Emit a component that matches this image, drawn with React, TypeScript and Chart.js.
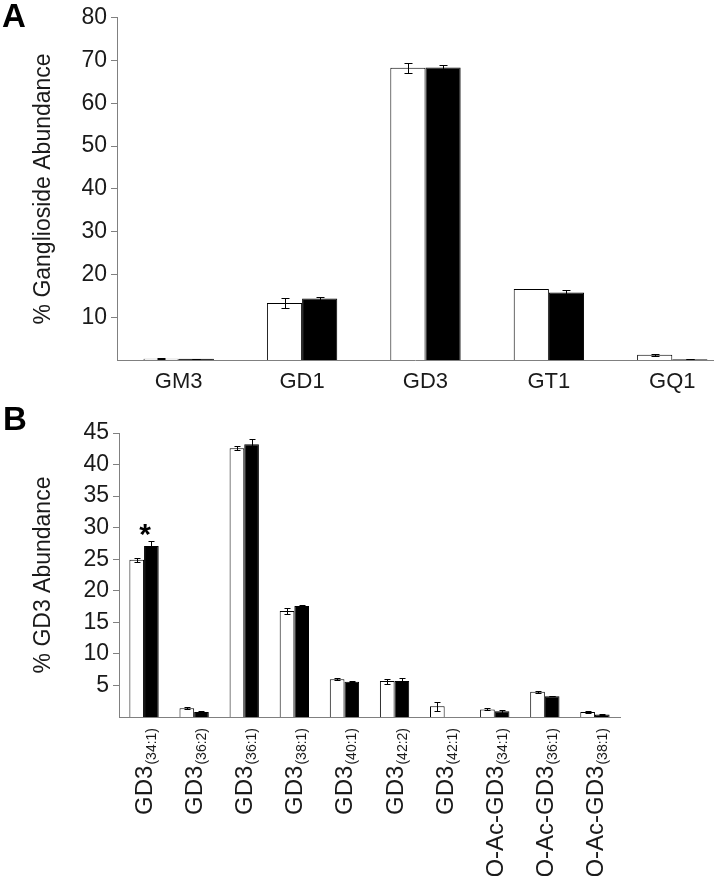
import React, { useEffect, useRef } from "react";
import { Chart, registerables } from "chart.js";

Chart.register(...registerables);

const FONT = '"Liberation Sans", Arial, Helvetica, sans-serif';
const TEXT = "#1a1a1a";
const AXIS = "#808080";

// Panel A data
const gangliosides = ["GM3", "GD1", "GD3", "GT1", "GQ1"];
const gangWhite = [0.3, 13.3, 68.3, 16.6, 1.2];
const gangWhiteErr = [0.1, 1.2, 1.2, 0.1, 0.2];
const gangBlack = [0.3, 14.4, 68.4, 15.8, 0.2];
const gangBlackErr = [0.05, 0.3, 0.6, 0.5, 0.05];
const gangTicks = [10, 20, 30, 40, 50, 60, 70, 80];

// Panel B data
const gd3Main = ["GD3", "GD3", "GD3", "GD3", "GD3", "GD3", "GD3", "O-Ac-GD3", "O-Ac-GD3", "O-Ac-GD3"];
const gd3Sub = ["(34:1)", "(36:2)", "(36:1)", "(38:1)", "(40:1)", "(42:2)", "(42:1)", "(34:1)", "(36:1)", "(38:1)"];
const gd3White = [24.9, 1.4, 42.6, 16.8, 6.0, 5.7, 1.7, 1.2, 4.0, 0.8];
const gd3WhiteErr = [0.3, 0.2, 0.3, 0.5, 0.2, 0.4, 0.7, 0.15, 0.15, 0.15];
const gd3Black = [27.1, 0.8, 43.2, 17.6, 5.6, 5.7, 0, 0.9, 3.3, 0.4];
const gd3BlackErr = [0.8, 0.1, 0.9, 0.2, 0.1, 0.5, 0, 0.2, 0.05, 0.05];
const gd3Ticks = [5, 10, 15, 20, 25, 30, 35, 40, 45];

function drawErrors(chart: any, errs: number[][], cap: number) {
  const ctx = chart.ctx;
  const y = chart.scales.y;
  ctx.save();
  ctx.strokeStyle = "#000";
  ctx.lineWidth = 1;
  errs.forEach((arr, di) => {
    const meta = chart.getDatasetMeta(di);
    const ds = chart.data.datasets[di].data as any[];
    meta.data.forEach((el: any, j: number) => {
      const e = arr[j];
      if (!e) return;
      const v = typeof ds[j] === "number" ? ds[j] : ds[j].y;
      const yt = Math.round(y.getPixelForValue(v + e)) + 0.5;
      const yb = Math.round(y.getPixelForValue(Math.max(0, v - e))) + 0.5;
      const x = Math.round(el.x) + 0.5;
      ctx.beginPath();
      ctx.moveTo(x, yt);
      ctx.lineTo(x, yb);
      ctx.moveTo(x - cap / 2, yt);
      ctx.lineTo(x + cap / 2, yt);
      ctx.moveTo(x - cap / 2, yb);
      ctx.lineTo(x + cap / 2, yb);
      ctx.stroke();
    });
  });
  ctx.restore();
}

function drawYTitle(chart: any, text: string, x: number) {
  const ctx = chart.ctx;
  const a = chart.chartArea;
  ctx.save();
  ctx.translate(x, (a.top + a.bottom) / 2);
  ctx.rotate(-Math.PI / 2);
  ctx.font = `23px ${FONT}`;
  ctx.fillStyle = TEXT;
  ctx.textAlign = "center";
  ctx.textBaseline = "middle";
  ctx.fillText(text, 0, 0);
  ctx.restore();
}

function drawLetter(chart: any, letter: string, x: number, y: number) {
  const ctx = chart.ctx;
  ctx.save();
  ctx.font = `bold 33px ${FONT}`;
  ctx.fillStyle = "#000";
  ctx.textAlign = "left";
  ctx.textBaseline = "alphabetic";
  ctx.fillText(letter, x, y);
  ctx.restore();
}

function ChartA() {
  const ref = useRef<HTMLCanvasElement>(null);
  useEffect(() => {
    const extras = {
      id: "extrasA",
      afterDatasetsDraw(chart: any) {
        drawErrors(chart, [gangWhiteErr, gangBlackErr], 8);
      },
      afterDraw(chart: any) {
        drawYTitle(chart, "% Ganglioside Abundance", 44);
        drawLetter(chart, "A", 2, 27);
      },
    };
    const chart = new Chart(ref.current!, {
      type: "bar",
      data: {
        datasets: [
          {
            data: gangWhite.map((v, i) => ({ x: i, y: v })),
            backgroundColor: "#ffffff",
            borderColor: "#000000",
            borderWidth: 1,
            categoryPercentage: 0.57,
            barPercentage: 1,
          },
          {
            data: gangBlack.map((v, i) => ({ x: i, y: v })),
            backgroundColor: "#000000",
            borderColor: "#000000",
            borderWidth: 1,
            categoryPercentage: 0.57,
            barPercentage: 1,
          },
        ] as any,
      },
      options: {
        animation: false,
        responsive: false,
        devicePixelRatio: 1,
        layout: { padding: { left: 0, right: 4, top: 16, bottom: 0 } },
        plugins: { legend: { display: false }, tooltip: { enabled: false } },
        scales: {
          x: {
            type: "linear",
            min: -0.5,
            max: 4.33,
            offset: false,
            afterBuildTicks: (s: any) => {
              s.ticks = gangliosides.map((_, i) => ({ value: i }));
            },
            afterFit: (s: any) => {
              s.height = 40;
            },
            ticks: {
              callback: (v: any) => gangliosides[v] ?? "",
              font: { family: FONT, size: 22 },
              color: TEXT,
              padding: 9,
              autoSkip: false,
              maxRotation: 0,
            },
            grid: { display: false, drawTicks: false },
            border: { display: true, color: AXIS, width: 1 },
          },
          y: {
            type: "linear",
            min: 0,
            max: 80,
            afterBuildTicks: (s: any) => {
              s.ticks = gangTicks.map((v) => ({ value: v }));
            },
            afterFit: (s: any) => {
              s.width = 117;
            },
            ticks: { font: { family: FONT, size: 23 }, color: TEXT, padding: 4 },
            grid: { drawOnChartArea: false, tickLength: 6, color: AXIS },
            border: { display: true, color: AXIS, width: 1 },
          },
        },
      } as any,
      plugins: [extras],
    });
    return () => chart.destroy();
  }, []);
  return (
    <canvas
      ref={ref}
      width={717}
      height={400}
      style={{ position: "absolute", left: 0, top: 0, width: 717, height: 400 }}
    />
  );
}

function ChartB() {
  const ref = useRef<HTMLCanvasElement>(null);
  useEffect(() => {
    const extras = {
      id: "extrasB",
      afterDatasetsDraw(chart: any) {
        drawErrors(chart, [gd3WhiteErr, gd3BlackErr], 6);
      },
      afterDraw(chart: any) {
        const ctx = chart.ctx;
        const xs = chart.scales.x;
        const ys = chart.scales.y;
        const a = chart.chartArea;
        drawYTitle(chart, "% GD3 Abundance", 44);
        drawLetter(chart, "B", 3, 30);
        // asterisk
        ctx.save();
        ctx.font = `bold 30px ${FONT}`;
        ctx.fillStyle = "#000";
        ctx.textAlign = "center";
        ctx.textBaseline = "alphabetic";
        const ay = ys.getPixelForValue(gd3Black[0] + gd3BlackErr[0]) - 14;
        ctx.fillText("*", xs.getPixelForValue(0) + 1, ay + 17);
        ctx.restore();
        // x labels with subscripts
        gd3Main.forEach((main, i) => {
          const x = xs.getPixelForValue(i);
          ctx.save();
          ctx.translate(x + 8, a.bottom + 11);
          ctx.rotate(-Math.PI / 2);
          ctx.fillStyle = TEXT;
          ctx.textAlign = "right";
          ctx.textBaseline = "alphabetic";
          ctx.font = `14px ${FONT}`;
          const sw = ctx.measureText(gd3Sub[i]).width;
          ctx.fillText(gd3Sub[i], 0, 4);
          ctx.font = `24px ${FONT}`;
          ctx.fillText(main, -sw - 1, 0);
          ctx.restore();
        });
      },
    };
    const chart = new Chart(ref.current!, {
      type: "bar",
      data: {
        labels: gd3Sub.map((s, i) => gd3Main[i] + s),
        datasets: [
          {
            data: gd3White,
            backgroundColor: "#ffffff",
            borderColor: "#000000",
            borderWidth: 1,
            categoryPercentage: 0.585,
            barPercentage: 1,
          },
          {
            data: gd3Black,
            backgroundColor: "#000000",
            borderColor: "#000000",
            borderWidth: 1,
            categoryPercentage: 0.585,
            barPercentage: 1,
          },
        ],
      },
      options: {
        animation: false,
        responsive: false,
        devicePixelRatio: 1,
        layout: { padding: { left: 0, right: 97, top: 33, bottom: 0 } },
        plugins: { legend: { display: false }, tooltip: { enabled: false } },
        scales: {
          x: {
            type: "category",
            offset: true,
            afterFit: (s: any) => {
              s.height = 159;
            },
            ticks: { display: false },
            grid: { display: false, drawTicks: false },
            border: { display: true, color: AXIS, width: 1 },
          },
          y: {
            type: "linear",
            min: 0,
            max: 45,
            afterBuildTicks: (s: any) => {
              s.ticks = gd3Ticks.map((v) => ({ value: v }));
            },
            afterFit: (s: any) => {
              s.width = 119;
            },
            ticks: { font: { family: FONT, size: 23 }, color: TEXT, padding: 4 },
            grid: { drawOnChartArea: false, tickLength: 6, color: AXIS },
            border: { display: true, color: AXIS, width: 1 },
          },
        },
      } as any,
      plugins: [extras],
    });
    return () => chart.destroy();
  }, []);
  return (
    <canvas
      ref={ref}
      width={717}
      height={476}
      style={{ position: "absolute", left: 0, top: 400, width: 717, height: 476 }}
    />
  );
}

export default function App() {
  return (
    <div
      style={{
        position: "absolute",
        left: 0,
        top: 0,
        width: 717,
        height: 876,
        background: "#ffffff",
        overflow: "hidden",
      }}
    >
      <ChartA />
      <ChartB />
    </div>
  );
}
